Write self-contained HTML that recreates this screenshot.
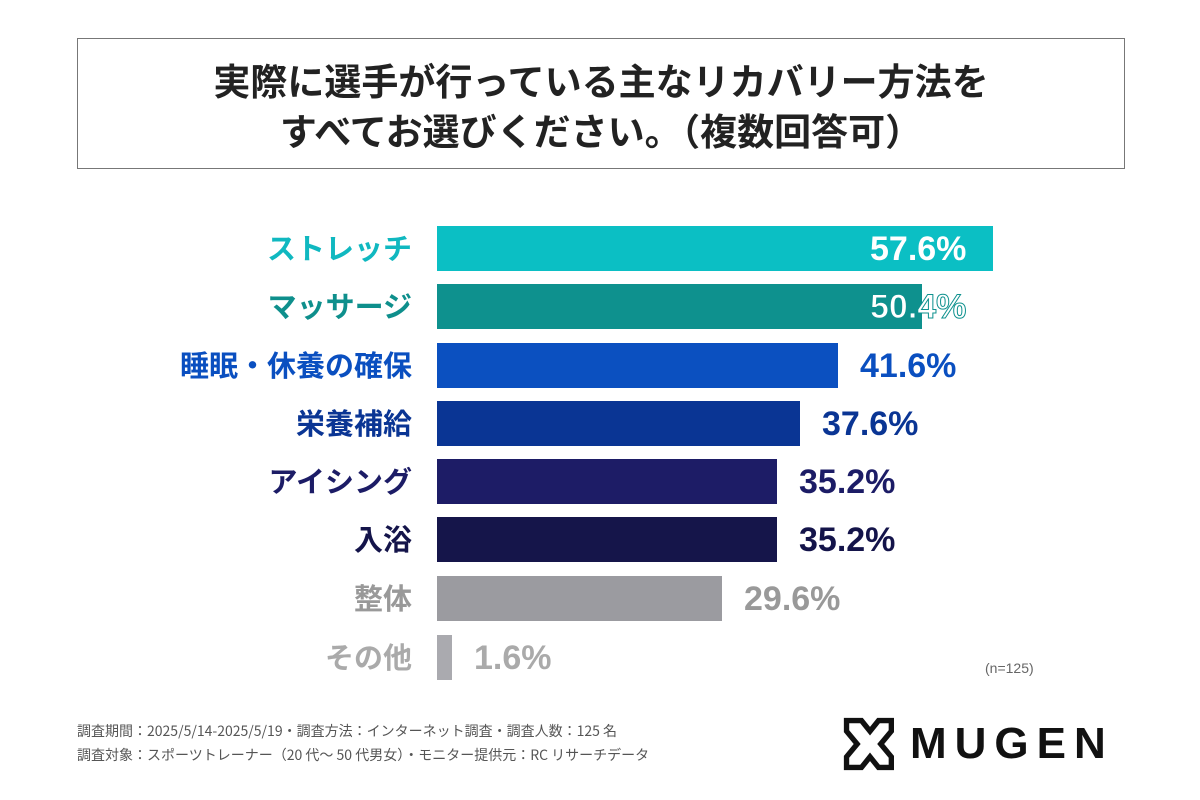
<!DOCTYPE html>
<html><head><meta charset="utf-8"><style>
*{margin:0;padding:0;box-sizing:border-box}
body{width:1200px;height:800px;background:#fff;position:relative;overflow:hidden;font-family:"Liberation Sans","Noto Sans CJK JP",sans-serif}
.box{position:absolute;left:77px;top:38px;width:1048px;height:131px;border:1.5px solid #777}
.title{position:absolute;left:77px;width:1048px;text-align:center;font-weight:bold;font-size:37px;color:#222;font-family:"Noto Sans CJK JP",sans-serif;line-height:44px}
.lab{position:absolute;right:788px;font-weight:bold;font-size:29px;font-family:"Noto Sans CJK JP",sans-serif;line-height:44px;white-space:nowrap}
.bar{position:absolute;left:437px;height:45px}
.val{position:absolute;font-size:34px;line-height:47px;font-weight:bold}
.foot{position:absolute;left:77px;font-size:14px;color:#555;font-family:"Noto Sans CJK JP",sans-serif}
</style></head><body>
<div class="box"></div>
<div class="title" style="top:57px">実際に選手が行っている主なリカバリー方法を</div>
<div class="title" style="top:107px">すべてお選びください。（複数回答可）</div>

<div class="lab" style="top:225px;color:#10b8c0">ストレッチ</div>
<div class="bar" style="top:226px;width:556px;background:#0bbfc4"></div>
<div class="val" style="top:226px;left:870px;color:#fff">57.6%</div>

<div class="lab" style="top:283px;color:#0e8f8c">マッサージ</div>
<div class="bar" style="top:284px;width:485px;background:#0e918e"></div>
<div class="val" style="top:284px;left:870px;color:#fff;-webkit-text-stroke:1px #0e918e">50.4%</div>

<div class="lab" style="top:342px;color:#0a4fc0">睡眠・休養の確保</div>
<div class="bar" style="top:343px;width:401px;background:#0b50c0"></div>
<div class="val" style="top:343px;left:860px;color:#0a4fc0">41.6%</div>

<div class="lab" style="top:400px;color:#0a3594">栄養補給</div>
<div class="bar" style="top:401px;width:363px;background:#0a3594"></div>
<div class="val" style="top:401px;left:822px;color:#0a3594">37.6%</div>

<div class="lab" style="top:458px;color:#1c1c66">アイシング</div>
<div class="bar" style="top:459px;width:340px;background:#1d1c66"></div>
<div class="val" style="top:459px;left:799px;color:#1c1c66">35.2%</div>

<div class="lab" style="top:516px;color:#14144a">入浴</div>
<div class="bar" style="top:517px;width:340px;background:#15154a"></div>
<div class="val" style="top:517px;left:799px;color:#14144a">35.2%</div>

<div class="lab" style="top:575px;color:#999">整体</div>
<div class="bar" style="top:576px;width:285px;background:#9b9ba0"></div>
<div class="val" style="top:576px;left:744px;color:#999">29.6%</div>

<div class="lab" style="top:634px;color:#aaa">その他</div>
<div class="bar" style="top:635px;width:15px;background:#aaaaaf"></div>
<div class="val" style="top:635px;left:474px;color:#aaa">1.6%</div>

<div style="position:absolute;left:985px;top:660px;font-size:14px;color:#666">(n=125)</div>

<div class="foot" style="top:721px">調査期間：2025/5/14-2025/5/19・調査方法：インターネット調査・調査人数：125 名</div>
<div class="foot" style="top:745px">調査対象：スポーツトレーナー（20 代〜 50 代男女）・モニター提供元：RC リサーチデータ</div>

<svg style="position:absolute;left:838px;top:712px" width="64" height="64" viewBox="0 0 60 60">
<path d="M8 8 L22 8 L30 18 L38 8 L50 8 L50 18 L40 30 L50 42 L50 52 L38 52 L30 42 L22 52 L8 52 L8 42 L18 30 L8 18 Z" fill="none" stroke="#111" stroke-width="5" stroke-linejoin="miter"/>
</svg>
<div style="position:absolute;left:910px;top:720px;font-size:44px;font-weight:bold;color:#111;letter-spacing:8px;line-height:48px">MUGEN</div>
</body></html>
